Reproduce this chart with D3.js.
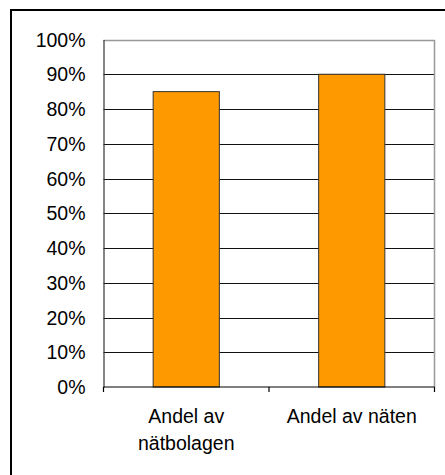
<!DOCTYPE html>
<html>
<head>
<meta charset="utf-8">
<script src="https://cdn.jsdelivr.net/npm/d3@7"></script>
<style>
  body { margin: 0; background: #fff; }
  svg text { font-family: "Liberation Sans", Arial, sans-serif; fill: #000; }
</style>
</head>
<body>
<svg id="chart" width="445" height="475"></svg>
<script>
// data
const categories = ["Andel av nätbolagen", "Andel av näten"];
const categoryLines = [["Andel av", "nätbolagen"], ["Andel av näten"]];
const values = [0.85, 0.9];
const yTicks = [0, 0.1, 0.2, 0.3, 0.4, 0.5, 0.6, 0.7, 0.8, 0.9, 1];

const svg = d3.select("svg#chart");

const plot = { left: 103.5, right: 434.5, top: 39.5, bottom: 387 };

// outer frame, only top and left edges fall inside the picture
svg.append("rect")
  .attr("x", 11).attr("y", 10)
  .attr("width", 460).attr("height", 500)
  .attr("fill", "none")
  .attr("stroke", "#000")
  .attr("stroke-width", 2);

const x = d3.scaleBand(categories, [plot.left, plot.right])
  .paddingInner(0.6)
  .paddingOuter(0.3);
const y = d3.scaleLinear([0, 1], [plot.bottom, plot.top]);

// gridlines
svg.append("g")
  .selectAll("line")
  .data(yTicks.slice(1, -1))
  .join("line")
  .attr("x1", plot.left).attr("x2", plot.right)
  .attr("y1", (d) => Math.round(y(d)) + 0.5)
  .attr("y2", (d) => Math.round(y(d)) + 0.5)
  .attr("stroke", "#111")
  .attr("stroke-width", 1);

// plot frame top and right
svg.append("path")
  .attr("d", `M${plot.left},${Math.round(plot.top) + 0.5}H${plot.right}V${plot.bottom}`)
  .attr("fill", "none")
  .attr("stroke", "#999")
  .attr("stroke-width", 1.5);

// bars
svg.append("g")
  .selectAll("rect")
  .data(values)
  .join("rect")
  .attr("x", (d, i) => x(categories[i]))
  .attr("y", (d) => y(d))
  .attr("width", x.bandwidth())
  .attr("height", (d) => y(0) - y(d))
  .attr("fill", "#FF9900")
  .attr("stroke", "#333")
  .attr("stroke-width", 1);

// y axis
svg.append("g")
  .attr("transform", `translate(${plot.left},0)`)
  .call(d3.axisLeft(y).tickValues(yTicks).tickSize(0).tickPadding(18).tickFormat(d3.format(".0%")))
  .call((g) => g.select(".domain").attr("stroke", "#333").attr("stroke-width", 1.2))
  .call((g) => g.selectAll("text")
    .style("font-size", "19.5px")
    .attr("font-family", null)
    .attr("dy", "0.34em"));

// x axis with ticks at the category boundaries
const bounds = categories.map((c) => x(c) - x.step() * x.paddingInner() / 2);
bounds[0] = plot.left;
bounds.push(plot.right);
svg.append("line")
  .attr("x1", plot.left).attr("x2", plot.right)
  .attr("y1", plot.bottom).attr("y2", plot.bottom)
  .attr("stroke", "#000").attr("stroke-width", 1.2);
svg.append("g")
  .selectAll("line")
  .data(bounds)
  .join("line")
  .attr("x1", (d) => d).attr("x2", (d) => d)
  .attr("y1", plot.bottom).attr("y2", plot.bottom + 5)
  .attr("stroke", "#000").attr("stroke-width", 1.2);

// category labels
svg.append("g")
  .selectAll("text")
  .data(categories)
  .join("text")
  .attr("x", (d) => x(d) + x.bandwidth() / 2)
  .attr("y", 423)
  .attr("text-anchor", "middle")
  .style("font-size", "19.5px")
  .selectAll("tspan")
  .data((d, i) => categoryLines[i])
  .join("tspan")
  .attr("x", function () { return d3.select(this.parentNode).attr("x"); })
  .attr("dy", (d, i) => (i === 0 ? 0 : 27))
  .text((d) => d);
</script>
</body>
</html>
